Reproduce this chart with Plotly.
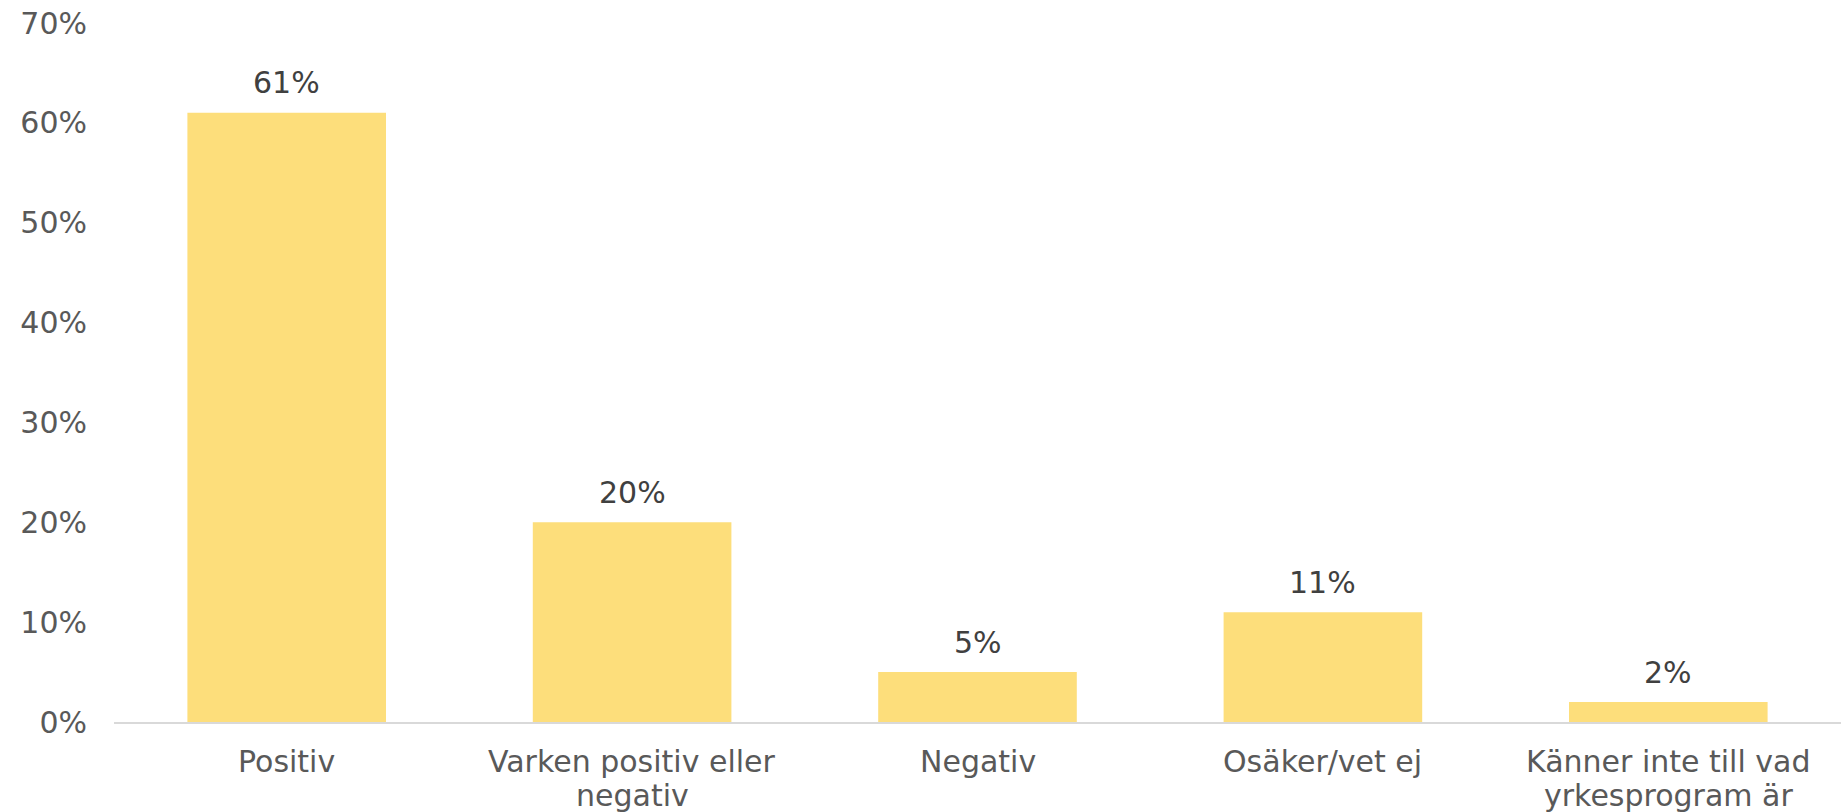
import plotly.graph_objects as go

categories = ["Positiv", "Varken positiv eller<br>negativ", "Negativ", "Osäker/vet ej",
              "Känner inte till vad<br>yrkesprogram är"]
values = [0.61, 0.20, 0.05, 0.11, 0.02]
value_labels = ["61%", "20%", "5%", "11%", "2%"]
tick_vals = [0, 0.1, 0.2, 0.3, 0.4, 0.5, 0.6, 0.7]
tick_text = ["0%", "10%", "20%", "30%", "40%", "50%", "60%", "70%"]

FONT = "DejaVu Sans, Verdana, sans-serif"
FS = 30

fig = go.Figure(go.Bar(
    x=categories, y=values,
    marker=dict(color="#FDDE7B", line=dict(width=0)),
    width=0.575,
))

for c, v, t in zip(categories, values, value_labels):
    fig.add_annotation(x=c, y=v, text=t, showarrow=False, yanchor="middle",
                       yshift=30, font=dict(family=FONT, size=FS, color="#404040"))

# category labels, one annotation per line (tighter line spacing than tick labels)
for c in categories:
    for i, line in enumerate(c.split("<br>")):
        fig.add_annotation(x=c, y=0, text=line, showarrow=False, yanchor="middle",
                           yshift=-39 - 34 * i,
                           font=dict(family=FONT, size=FS, color="#595959"))

fig.update_layout(
    width=1841, height=812,
    margin=dict(l=114, r=0, t=23, b=90, autoexpand=False),
    paper_bgcolor="white", plot_bgcolor="white",
    showlegend=False,
    font=dict(family=FONT, size=FS, color="#595959"),
)
fig.update_yaxes(range=[0, 0.7], tickvals=tick_vals, ticktext=tick_text,
                 showgrid=False, zeroline=False, showline=False,
                 ticks="", ticklabelstandoff=26, automargin=False,
                 ticklabeloverflow="allow",
                 tickfont=dict(family=FONT, size=FS, color="#595959"))
fig.update_xaxes(showgrid=False, showline=True, linecolor="#D9D9D9", linewidth=2,
                 ticks="", showticklabels=False, automargin=False)

fig.write_html("out.html", config={"displayModeBar": False},
               post_script="document.body.style.margin='0';document.body.style.overflow='hidden';")
